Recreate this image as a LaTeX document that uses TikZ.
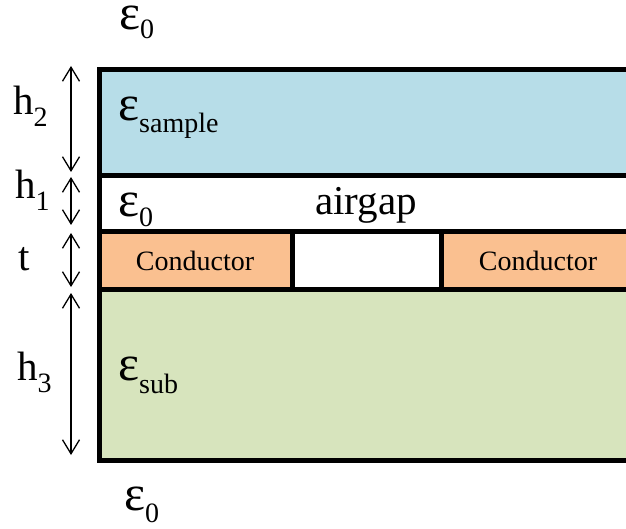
\documentclass[tikz,border=0pt]{standalone}
\usepackage{fontspec}
\setmainfont{Liberation Serif}
\usetikzlibrary{arrows.meta}
\definecolor{sampleblue}{HTML}{B7DDE8}
\definecolor{condorange}{HTML}{FAC090}
\definecolor{subgreen}{HTML}{D7E4BD}
\tikzset{
  border/.style={line width=5pt, line join=miter},
  dim/.style={line width=1.3pt, {Straight Barb[length=14pt,width=17pt,line width=1.3pt]}-{Straight Barb[length=14pt,width=17pt,line width=1.3pt]}},
  lbl/.style={anchor=base west, inner sep=0pt, font=\fontsize{41}{41}\selectfont},
  condlbl/.style={anchor=base, inner sep=0pt, font=\fontsize{28}{28}\selectfont},
}
\newcommand{\myeps}[2]{{\fontsize{50}{50}\selectfont ε}\raisebox{-#2pt}{\fontsize{28}{28}\selectfont #1}}
\newcommand{\mysub}[2]{#1\raisebox{-12pt}{\fontsize{28}{28}\selectfont #2}}
\begin{document}
\begin{tikzpicture}[x=1pt,y=-1pt]
\useasboundingbox (0,0) rectangle (626,529);
% layers
\fill[sampleblue] (99,70) rectangle (626,176);
\fill[white] (99,176) rectangle (626,232);
\fill[condorange] (99,232) rectangle (292,289);
\fill[condorange] (441,232) rectangle (626,289);
\fill[subgreen] (99,289) rectangle (626,460);
% borders
\draw[border] (626,70) -- (99,70) -- (99,460) -- (626,460);
\draw[border] (99,176) -- (626,176);
\draw[border] (99,232) -- (626,232);
\draw[border] (99,289) -- (626,289);
\draw[border] (292,232) -- (292,289);
\draw[border] (441,232) -- (441,289);
% dimension arrows
\coordinate (h2t) at (71,66);  \coordinate (h2b) at (71,172);
\coordinate (h1t) at (71,177); \coordinate (h1b) at (71,225);
\coordinate (tt)  at (71,233); \coordinate (tb)  at (71,287);
\coordinate (h3t) at (71,293); \coordinate (h3b) at (71,455);
\draw[dim] (h2t) -- (h2b);
\draw[dim] (h1t) -- (h1b);
\draw[dim] (tt) -- (tb);
\draw[dim] (h3t) -- (h3b);
% dimension labels
\node[lbl] (lh2) at (13,115) {\mysub{h}{2}};
\node[lbl] (lh1) at (15,199) {\mysub{h}{1}};
\node[lbl] (lt)  at (18,270) {t};
\node[lbl] (lh3) at (17,380) {\mysub{h}{3}};
% permittivities
\node[lbl] (etop) at (119,30) {\myeps{0}{9}};
\node[lbl] (esample) at (118,121) {\myeps{sample}{12}};
\node[lbl] (eair) at (118,217) {\myeps{0}{10}};
\node[lbl] (esub) at (118,380) {\myeps{sub}{13}};
\node[lbl] (ebot) at (124,510) {\myeps{0}{12}};
\node[lbl] (airgap) at (315,215) {airgap};
\node[condlbl] (cond1) at (195,270) {Conductor};
\node[condlbl] (cond2) at (538,270) {Conductor};
\end{tikzpicture}
\end{document}
